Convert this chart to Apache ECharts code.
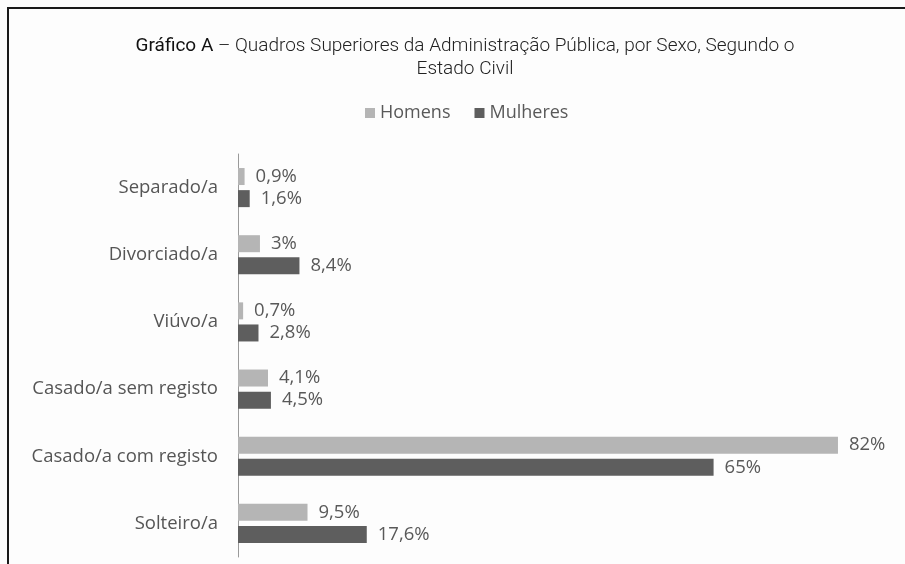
<!DOCTYPE html>
<html>
<head>
<meta charset="utf-8">
<script src="https://cdn.jsdelivr.net/npm/echarts@6/dist/echarts.min.js"></script>
<style>
html,body{margin:0;padding:0;background:#fff;}
#c{width:905px;height:564px;}
</style>
</head>
<body>
<div id="c"></div>
<script>
// Data (categories listed bottom to top, as drawn on the category axis)
var categories = ["Solteiro/a", "Casado/a com registo", "Casado/a sem registo", "Viúvo/a", "Divorciado/a", "Separado/a"];
var homens = [9.5, 82, 4.1, 0.7, 3, 0.9];
var mulheres = [17.6, 65, 4.5, 2.8, 8.4, 1.6];
var seriesNames = ["Homens", "Mulheres"];

function fmt(v) {
  return String(v).replace('.', ',') + '%';
}

var chart = echarts.init(document.getElementById('c'), null, {renderer: 'canvas'});
var labelStyle = {
  show: true,
  position: 'right',
  distance: 11,
  fontFamily: 'Open Sans',
  fontSize: 18.5,
  color: '#595959',
  formatter: function (p) { return fmt(p.value); }
};
chart.setOption({
  backgroundColor: '#fdfdfd',
  animation: false,
  title: {
    text: '{b|Gráfico A} – Quadros Superiores da Administração Pública, por Sexo, Segundo o\nEstado Civil',
    left: 460,
    textAlign: 'center',
    top: 30,
    textStyle: {
      fontFamily: 'Roboto',
      fontWeight: 300,
      fontSize: 19,
      color: '#222',
      lineHeight: 23,
      rich: {
        b: {fontFamily: 'Roboto', fontWeight: 400, fontSize: 19, color: '#111', lineHeight: 23}
      }
    }
  },
  legend: {
    data: seriesNames,
    top: 99,
    left: 360,
    itemWidth: 10,
    itemHeight: 10,
    itemGap: 24,
    icon: 'rect',
    textStyle: {fontFamily: 'Open Sans', fontSize: 18, color: '#595959', padding: [0, 0, 0, 0]}
  },
  grid: {left: 238, top: 154, width: 658.5, height: 403, containLabel: false},
  xAxis: {
    type: 'value',
    min: 0,
    max: 90,
    show: false
  },
  yAxis: {
    type: 'category',
    data: categories,
    axisLine: {show: true, lineStyle: {color: '#9a9a9a', width: 1}},
    axisTick: {show: false},
    axisLabel: {fontFamily: 'Open Sans', fontSize: 18.5, color: '#555', margin: 20}
  },
  series: [
    {
      name: seriesNames[0],
      type: 'bar',
      data: homens,
      barWidth: 17,
      barGap: '30%',
      itemStyle: {color: '#b5b5b5'},
      label: labelStyle
    },
    {
      name: seriesNames[1],
      type: 'bar',
      data: mulheres,
      barWidth: 17,
      barGap: '30%',
      itemStyle: {color: '#5e5e5e'},
      label: labelStyle
    }
  ],
  graphic: [
    {type: 'line', shape: {x1: 7, y1: 8, x2: 905, y2: 8}, style: {stroke: '#1a1a1a', lineWidth: 2}},
    {type: 'line', shape: {x1: 8, y1: 7, x2: 8, y2: 564}, style: {stroke: '#1a1a1a', lineWidth: 2}}
  ]
});
</script>
</body>
</html>
